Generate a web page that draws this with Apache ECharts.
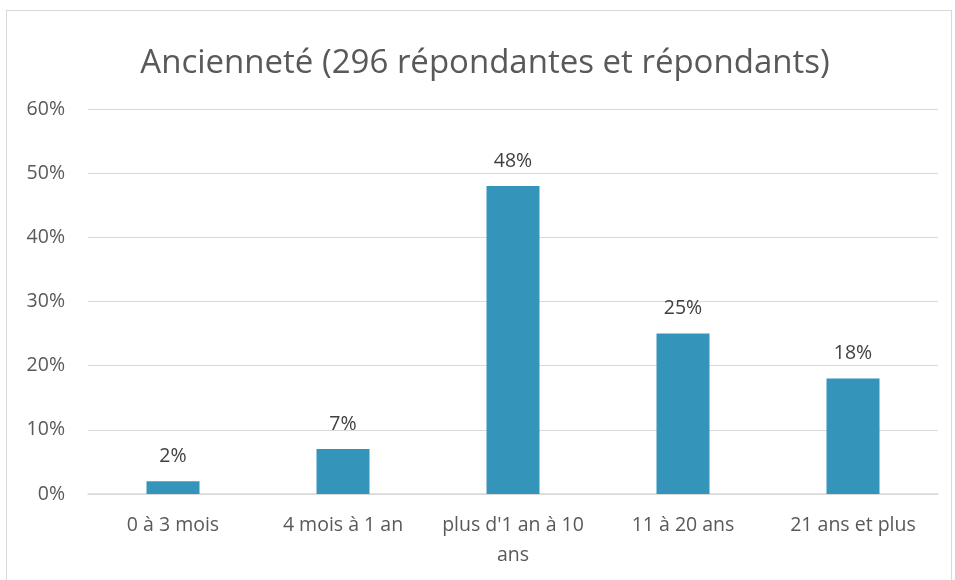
<!DOCTYPE html>
<html>
<head>
<meta charset="utf-8">
<script src="https://cdn.jsdelivr.net/npm/echarts@6/dist/echarts.min.js"></script>
<style>
    html, body { margin: 0; padding: 0; background: #fff; }
    #frame {
        position: absolute; left: 6px; top: 10px; width: 946px; height: 580px;
        border: 1px solid #d9d9d9; box-sizing: border-box;
    }
    #chart { position: absolute; left: 0; top: 0; width: 955px; height: 580px; }
</style>
</head>
<body>
<div id="frame"></div>
<div id="chart"></div>
<script>
    var categories = ['0 à 3 mois', '4 mois à 1 an', "plus d'1 an à 10\nans", '11 à 20 ans', '21 ans et plus'];
    var values = [2, 7, 48, 25, 18];
    var titleText = 'Ancienneté (296 répondantes et répondants)';

    var myChart = echarts.init(document.getElementById('chart'));
    var option = {
        animation: false,
        textStyle: { fontFamily: 'Open Sans' },
        title: {
            text: titleText,
            left: 480,
            top: 42,
            textAlign: 'center',
            textStyle: { fontSize: 33, fontWeight: 'normal', color: '#595959', fontFamily: 'Open Sans' }
        },
        grid: { left: 88, right: 17, top: 109, bottom: 86 },
        xAxis: {
            type: 'category',
            data: categories,
            axisLine: { lineStyle: { color: '#d9d9d9', width: 1.5 } },
            axisTick: { show: false },
            axisLabel: { color: '#595959', fontSize: 19.5, margin: 16, lineHeight: 30, interval: 0 }
        },
        yAxis: {
            type: 'value',
            min: 0,
            max: 60,
            interval: 10,
            axisLine: { show: false },
            axisTick: { show: false },
            splitLine: { lineStyle: { color: '#d9d9d9', width: 1 } },
            axisLabel: { color: '#595959', fontSize: 19.5, margin: 23, formatter: '{value}%' }
        },
        series: [{
            type: 'bar',
            data: values,
            barWidth: 53,
            itemStyle: { color: '#3494BA' },
            label: {
                show: true,
                position: 'top',
                distance: 15,
                color: '#404040',
                fontSize: 19.5,
                formatter: '{c}%'
            }
        }]
    };
    myChart.setOption(option);
</script>
</body>
</html>
